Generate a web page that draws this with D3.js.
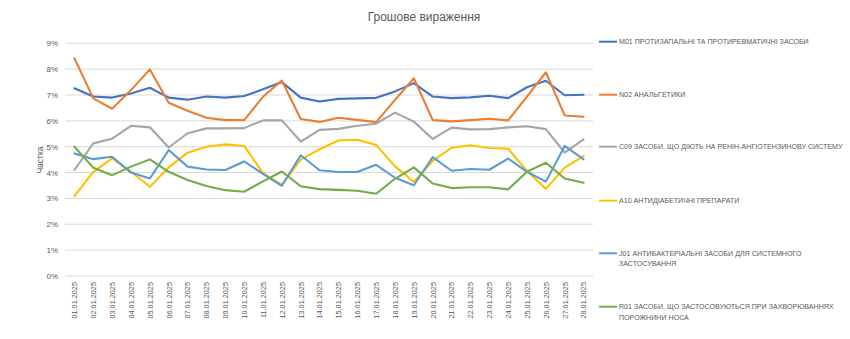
<!DOCTYPE html>
<html><head><meta charset="utf-8">
<script src="https://cdn.jsdelivr.net/npm/d3@7/dist/d3.min.js"></script>
<style>body{margin:0;background:#fff}svg{display:block}</style>
</head><body>
<svg id="c" width="850" height="339"></svg>
<script>
const dates = ["01.01.2025","02.01.2025","03.01.2025","04.01.2025","05.01.2025","06.01.2025","07.01.2025","08.01.2025","09.01.2025","10.01.2025","11.01.2025","12.01.2025","13.01.2025","14.01.2025","15.01.2025","16.01.2025","17.01.2025","18.01.2025","19.01.2025","20.01.2025","21.01.2025","22.01.2025","23.01.2025","24.01.2025","25.01.2025","26.01.2025","27.01.2025","28.01.2025"];
const yTicks = [0,1,2,3,4,5,6,7,8,9];
const m01 = [7.26,6.94,6.90,7.06,7.28,6.90,6.82,6.94,6.90,6.96,7.22,7.50,6.90,6.75,6.85,6.87,6.89,7.14,7.46,6.94,6.88,6.91,6.97,6.88,7.30,7.55,6.99,7.01];
const n02 = [8.42,6.87,6.47,7.19,7.99,6.70,6.39,6.12,6.03,6.03,6.93,7.56,6.07,5.96,6.12,6.04,5.95,6.81,7.65,6.03,5.98,6.03,6.08,6.02,6.94,7.88,6.21,6.16];
const c09 = [4.10,5.13,5.31,5.81,5.75,4.97,5.52,5.71,5.71,5.72,6.02,6.02,5.20,5.65,5.69,5.81,5.89,6.32,5.97,5.30,5.74,5.67,5.68,5.75,5.79,5.68,4.77,5.28];
const a10 = [3.09,4.03,4.55,4.03,3.45,4.20,4.77,5.00,5.09,5.03,3.98,3.52,4.50,4.90,5.24,5.27,5.07,4.24,3.64,4.45,4.96,5.06,4.95,4.92,4.06,3.37,4.19,4.64];
const j01 = [4.74,4.52,4.61,4.00,3.77,4.87,4.23,4.12,4.10,4.43,3.95,3.49,4.67,4.09,4.02,4.02,4.30,3.80,3.51,4.60,4.07,4.14,4.11,4.54,4.03,3.65,5.03,4.51];
const r01 = [5.00,4.19,3.90,4.23,4.51,4.03,3.71,3.48,3.32,3.26,3.66,4.04,3.47,3.36,3.33,3.30,3.18,3.76,4.20,3.58,3.40,3.43,3.43,3.35,4.03,4.38,3.77,3.61];
const seriesNames = [
  ["M01 ПРОТИЗАПАЛЬНІ ТА ПРОТИРЕВМАТИЧНІ ЗАСОБИ"],
  ["N02 АНАЛЬГЕТИКИ"],
  ["C09 ЗАСОБИ, ЩО ДІЮТЬ НА РЕНІН-АНГІОТЕНЗИНОВУ СИСТЕМУ"],
  ["A10 АНТИДІАБЕТИЧНІ ПРЕПАРАТИ"],
  ["J01 АНТИБАКТЕРІАЛЬНІ ЗАСОБИ ДЛЯ СИСТЕМНОГО","ЗАСТОСУВАННЯ"],
  ["R01 ЗАСОБИ, ЩО ЗАСТОСОВУЮТЬСЯ ПРИ ЗАХВОРЮВАННЯХ","ПОРОЖНИНИ НОСА"]
];
const seriesValues = [m01,n02,c09,a10,j01,r01];
const colors = ["#4472C4","#ED7D31","#A5A5A5","#FFC000","#5B9BD5","#70AD47"];

const svg = d3.select("#c");
const font = "'Liberation Sans', Arial, sans-serif";
const txt = "#595959";
const L = 65, R = 593, T = 43.3, B = 276;

const x = d3.scalePoint().domain(dates).range([L, R]).padding(0.5);
const y = d3.scaleLinear().domain([0, 9]).range([B, T]);

// gridlines
svg.append("g").selectAll("line").data(yTicks).join("line")
  .attr("x1", L).attr("x2", R)
  .attr("y1", d => y(d)).attr("y2", d => y(d))
  .attr("stroke", "#D9D9D9").attr("stroke-width", 1);

// y axis labels
const yAxis = svg.append("g").attr("transform", `translate(${L},0)`)
  .call(d3.axisLeft(y).tickValues(yTicks).tickFormat(d => d + "%").tickSize(0).tickPadding(7));
yAxis.select(".domain").remove();
yAxis.selectAll("text").attr("fill", txt).attr("font-family", font).attr("font-size", 8);

// x axis labels
const xAxis = svg.append("g").attr("transform", `translate(0,${B})`)
  .call(d3.axisBottom(x).tickSize(0).tickPadding(0));
xAxis.select(".domain").remove();
xAxis.selectAll("text")
  .attr("fill", txt).attr("font-family", font).attr("font-size", 7.3)
  .attr("text-anchor", "end").attr("dy", "0.32em")
  .attr("transform", "translate(0,6) rotate(-90)")
  .attr("x", 0).attr("y", 0);

// title
svg.append("text").attr("x", 424).attr("y", 21).attr("text-anchor", "middle")
  .attr("font-family", font).attr("font-size", 12).attr("fill", txt).text("Грошове вираження");

// y title
svg.append("text").attr("transform", "translate(43,160) rotate(-90)")
  .attr("text-anchor", "middle").attr("font-family", font).attr("font-size", 8.5)
  .attr("fill", txt).text("Частка");

// lines
const line = d3.line().x((d, i) => x(dates[i])).y(d => y(d));
svg.append("g").selectAll("path").data(seriesValues).join("path")
  .attr("d", line).attr("fill", "none")
  .attr("stroke", (d, i) => colors[i]).attr("stroke-width", 2.1)
  .attr("stroke-linejoin", "round").attr("stroke-linecap", "round");

// legend
const legY = [41.7, 94.7, 146.7, 200.7, 253.3, 306.7];
const leg = svg.append("g").selectAll("g").data(seriesNames).join("g")
  .attr("transform", (d, i) => `translate(599,${legY[i]})`);
leg.append("line").attr("x1", 0).attr("x2", 18).attr("y1", 0).attr("y2", 0)
  .attr("stroke", (d, i) => colors[i]).attr("stroke-width", 2);
leg.each(function(d) {
  const g = d3.select(this);
  d.forEach((s, k) => {
    g.append("text").attr("x", 20).attr("y", k * 10.5).attr("dy", "0.35em")
      .attr("font-family", font).attr("font-size", 7.1).attr("fill", txt).text(s);
  });
});
</script>
</body></html>
